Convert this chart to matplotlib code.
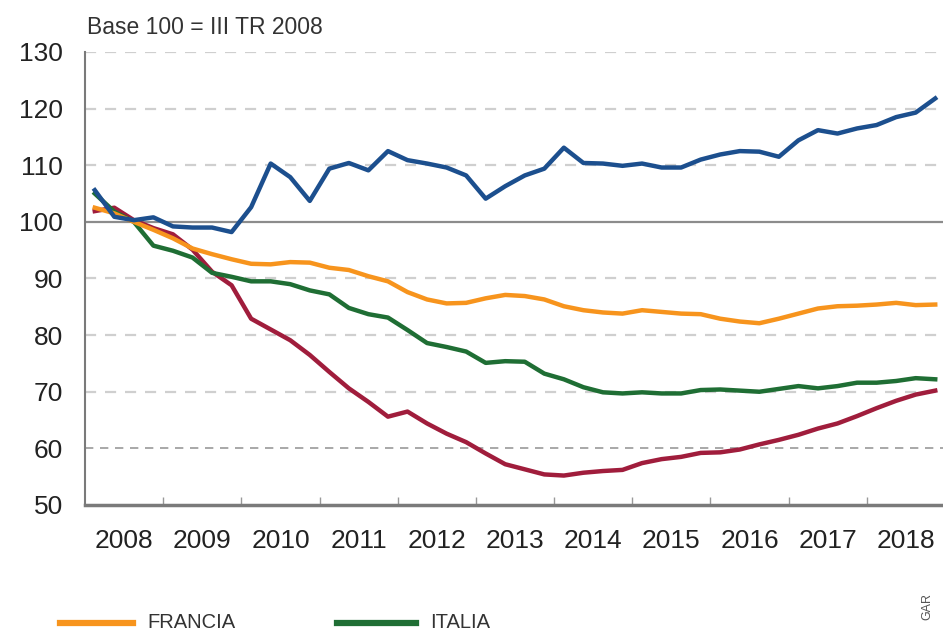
import numpy as np
import matplotlib.pyplot as plt
from matplotlib.lines import Line2D

plt.rcParams['font.family'] = ['Liberation Sans', 'DejaVu Sans']

# quarterly index, base 100 = III TR 2008 (2008 Q1 .. 2018 Q4)
anni = list(range(2008, 2019))
serie_blu = [105.6, 100.9, 100.3, 100.8, 99.2, 99.0, 99.0, 98.2, 102.6, 110.3,
             107.9, 103.7, 109.4, 110.4, 109.1, 112.5, 110.9, 110.3, 109.6, 108.2,
             104.1, 106.3, 108.2, 109.4, 113.1, 110.4, 110.3, 109.9, 110.3, 109.6,
             109.6, 111.0, 111.9, 112.5, 112.4, 111.5, 114.4, 116.2, 115.6, 116.5,
             117.1, 118.5, 119.3, 121.8]
francia = [102.5, 101.5, 100.0, 98.6, 97.1, 95.3, 94.3, 93.4, 92.6, 92.5,
           92.9, 92.8, 91.9, 91.5, 90.4, 89.5, 87.6, 86.3, 85.6, 85.7,
           86.5, 87.1, 86.9, 86.3, 85.1, 84.4, 84.0, 83.8, 84.4, 84.1,
           83.8, 83.7, 82.9, 82.4, 82.1, 82.9, 83.8, 84.7, 85.1, 85.2,
           85.4, 85.7, 85.3, 85.4]
italia = [105.0, 101.8, 100.0, 95.8, 94.9, 93.7, 91.0, 90.3, 89.5, 89.5,
          89.0, 87.9, 87.2, 84.8, 83.7, 83.1, 80.9, 78.6, 77.9, 77.1,
          75.1, 75.4, 75.3, 73.2, 72.2, 70.8, 69.9, 69.7, 69.9, 69.7,
          69.7, 70.3, 70.4, 70.2, 70.0, 70.5, 71.0, 70.6, 71.0, 71.6,
          71.6, 71.9, 72.4, 72.2]
serie_rossa = [101.9, 102.5, 100.3, 98.9, 97.8, 95.1, 91.2, 88.8, 82.9, 81.0,
               79.1, 76.5, 73.5, 70.6, 68.2, 65.6, 66.5, 64.4, 62.6, 61.1,
               59.1, 57.2, 56.3, 55.4, 55.2, 55.7, 56.0, 56.2, 57.4, 58.1,
               58.5, 59.2, 59.3, 59.8, 60.7, 61.5, 62.4, 63.5, 64.4, 65.7,
               67.1, 68.4, 69.5, 70.2]

# quarters drawn at the middle of each quarter
x = 2008 + (np.arange(len(francia)) + 0.5) / 4

c_blu, c_ora, c_ver, c_ros = '#1c4f8e', '#f7941d', '#1f6e34', '#a01d3c'

fig = plt.figure(figsize=(9.43, 6.34), dpi=100)
ax = fig.add_axes([85 / 943, 129 / 634, 1 - 85 / 943, 453 / 634])

# grid
for v in range(60, 131, 10):
    if v == 100:
        ax.axhline(v, color='#8c8c8c', lw=1.6, zorder=1)
    elif v == 60:
        ax.axhline(v, color='#9a9a9a', lw=1.2, ls=(0, (5, 4)), zorder=1)
    else:
        ax.axhline(v, color='#cfcfcf', lw=1.6, ls=(0, (5, 4)), zorder=1)

lw = 3.2
ax.plot(x, serie_rossa, color=c_ros, lw=lw, zorder=3, solid_joinstyle='round')
ax.plot(x, italia, color=c_ver, lw=lw, zorder=4, solid_joinstyle='round')
ax.plot(x, francia, color=c_ora, lw=lw, zorder=5, solid_joinstyle='round')
ax.plot(x, serie_blu, color=c_blu, lw=lw, zorder=6, solid_joinstyle='round')

ax.set_ylim(50, 130)
ax.set_xlim(2008, 2019 - 2 / 78)
ax.set_yticks(range(50, 131, 10))
ax.tick_params(axis='y', length=0, labelsize=19, labelcolor='#222222', pad=16)

ax.set_xticks(range(2009, 2019))
ax.set_xticks([a + 0.5 for a in anni], minor=True)
ax.set_xticklabels([])
ax.set_xticklabels([str(a) for a in anni], minor=True)
ax.tick_params(axis='x', which='major', direction='in', length=6, width=1, color='#999999')
ax.tick_params(axis='x', which='minor', length=0, labelsize=19, labelcolor='#222222', pad=17)

for s in ['top', 'right']:
    ax.spines[s].set_visible(False)
ax.spines['left'].set_color('#7a7a7a')
ax.spines['left'].set_linewidth(1.5)
ax.spines['bottom'].set_color('#7a7a7a')
ax.spines['bottom'].set_linewidth(2.5)

fig.text(87 / 943, 1 - 28 / 634, 'Base 100 = III TR 2008', fontsize=16.5,
         color='#333333', va='center', ha='left')

# legend (cut at the bottom edge like the source)
fig.add_artist(Line2D([60 / 943, 133 / 943], [1 - 623 / 634] * 2, color=c_ora, lw=4.5))
fig.text(147 / 943, 1 - 613 / 634, 'FRANCIA', fontsize=14.5, color='#333333', va='top')
fig.add_artist(Line2D([337 / 943, 416 / 943], [1 - 623 / 634] * 2, color=c_ver, lw=4.5))
fig.text(430 / 943, 1 - 613 / 634, 'ITALIA', fontsize=14.5, color='#333333', va='top')

fig.text(927 / 943, 1 - 606 / 634, 'GAR', fontsize=9, color='#555555',
         rotation=90, ha='center', va='center')

plt.savefig('out.png', dpi=100)
